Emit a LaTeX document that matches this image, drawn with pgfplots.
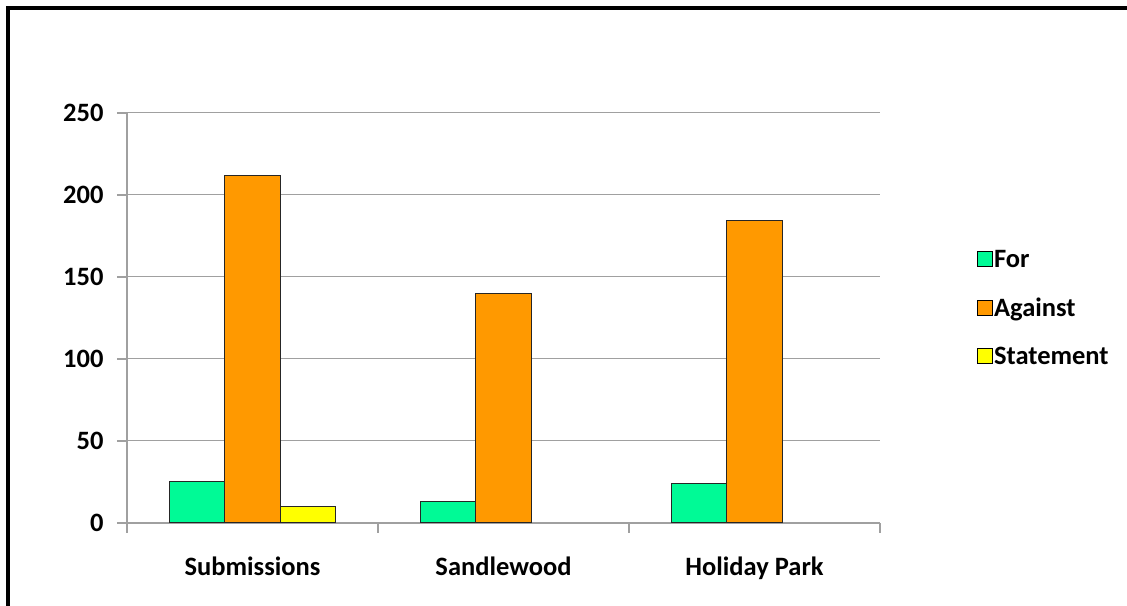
\documentclass[border=0pt]{standalone}
\usepackage{pgfplots}
\pgfplotsset{compat=1.18}
\usepackage{fontspec}
\setmainfont{Carlito}

\definecolor{forcol}{RGB}{0,250,150}
\definecolor{againstcol}{RGB}{255,153,0}
\definecolor{statecol}{RGB}{255,255,0}
\definecolor{gridcol}{RGB}{160,160,160}

\newcommand{\chartfont}{\fontsize{26.5}{31}\selectfont\bfseries}

\begin{document}
\begin{tikzpicture}
\useasboundingbox (0,0) rectangle (1127pt,605pt);
% outer frame (only the left and top edges fall inside the page)
\draw[line width=4pt, black] (8pt,-20pt) -- (8pt,597pt) -- (1150pt,597pt);
\begin{axis}[
  at={(127pt,82.3pt)}, anchor=south west,
  scale only axis, width=753pt, height=410pt,
  ybar=0pt, bar width=55.6pt,
  xmin=-0.5, xmax=2.5, ymin=0, ymax=250,
  axis lines*=left,
  axis line style={gridcol, line width=1.8pt},
  xtick={-0.5,0.5,1.5,2.5},
  xticklabels={Submissions,Sandlewood,Holiday Park,{}},
  x tick label as interval,
  ytick={0,50,100,150,200,250},
  tick align=outside, major tick length=10pt,
  tick style={gridcol, line width=1.8pt},
  ymajorgrids, grid style={gridcol, line width=1.4pt},
  /pgf/number format/assume math mode=true,
  ticklabel style={font=\chartfont, black},
  xticklabel style={yshift=-21pt},
  yticklabel style={xshift=-10pt},
  legend style={at={(1.128,0.524)}, anchor=west, draw=none, fill=none,
    font=\chartfont, inner sep=0pt, row sep=26pt,
    nodes={inner sep=1.5pt}},
  legend cell align=left,
  legend image code/.code={\draw[#1, draw=black, line width=1pt] (0pt,-7.5pt) rectangle (15pt,7.5pt);},
  every axis plot/.append style={draw=black!85, line width=1pt},
]
\addplot[fill=forcol] coordinates {(0,25) (1,13) (2,24)};
\addplot[fill=againstcol] coordinates {(0,212) (1,140) (2,184)};
\addplot[fill=statecol] coordinates {(0,10)};
\legend{For,Against,Statement}
\end{axis}
\end{tikzpicture}
\end{document}
